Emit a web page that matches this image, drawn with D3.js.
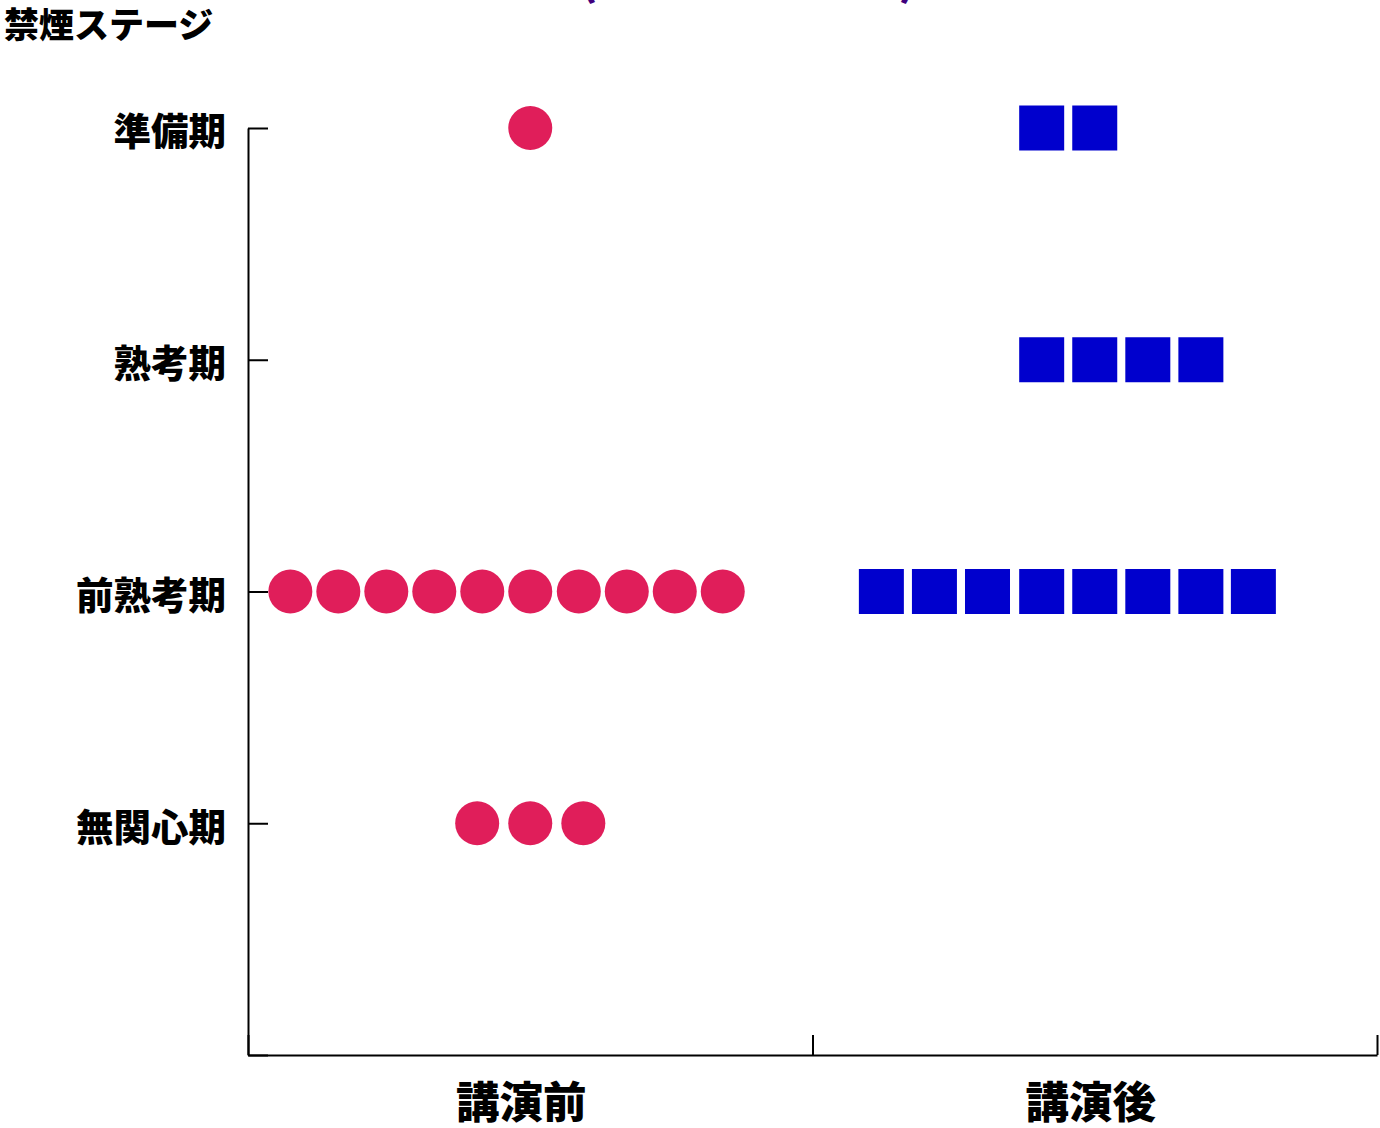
<!DOCTYPE html>
<html>
<head>
<meta charset="utf-8">
<script src="https://cdn.jsdelivr.net/npm/d3@7"></script>
<style>
  body { margin: 0; background: #ffffff; }
  svg text { font-family: "Noto Sans CJK JP", "Noto Sans", sans-serif; font-weight: 900; }
</style>
</head>
<body>
<div id="chart"></div>
<script>
// stages, bottom to top
const stages = ["無関心期", "前熟考期", "熟考期", "準備期"];
const groups = ["講演前", "講演後"];

// before the talk: one circle per person (stage index 1..4, x position in group units)
const beforeStage = [4, 2, 2, 2, 2, 2, 2, 2, 2, 2, 2, 1, 1, 1];
const beforeX = [0.500, 0.075, 0.160, 0.245, 0.330, 0.415, 0.500, 0.586, 0.671, 0.756, 0.841, 0.406, 0.500, 0.594];

// after the talk: one square per person
const afterStage = [4, 4, 3, 3, 3, 3, 2, 2, 2, 2, 2, 2, 2, 2];
const afterX = [1.406, 1.500, 1.406, 1.500, 1.594, 1.688, 1.122, 1.216, 1.310, 1.406, 1.500, 1.594, 1.688, 1.781];

const width = 1380;
const height = 1128;

const svg = d3.select("#chart")
    .append("svg")
    .attr("width", width)
    .attr("height", height);

const x = d3.scaleLinear().domain([0, 2]).range([248, 1377]);
const y = d3.scaleLinear().domain([0, 4]).range([1055, 128]);

// title, mostly above the visible area
svg.append("text")
    .attr("x", 748)
    .attr("y", -5)
    .attr("text-anchor", "middle")
    .style("font-size", "43px")
    .style("fill", "#3f007d")
    .text("(講演前→講演後)");

// y axis title
svg.append("text")
    .attr("x", 4)
    .attr("y", 38)
    .style("font-size", "35px")
    .style("fill", "#000")
    .text("禁煙ステージ");

// y axis
const yAxis = svg.append("g")
    .attr("transform", `translate(${x(0)},0)`)
    .call(d3.axisLeft(y)
        .tickValues([0, 1, 2, 3, 4])
        .tickSize(-20)
        .tickSizeOuter(0)
        .tickPadding(22)
        .tickFormat((d) => (d > 0 ? stages[d - 1] : "")));

yAxis.selectAll("text")
    .style("font-size", "37.5px")
    .style("fill", "#000")
    .attr("dy", "0.45em");

// x axis
const xAxis = svg.append("g")
    .attr("transform", `translate(0,${y(0)})`)
    .call(d3.axisBottom(x)
        .tickValues([0, 1, 2])
        .tickSize(-20)
        .tickSizeOuter(0)
        .tickFormat(""));

svg.selectAll(".domain, .tick line")
    .attr("stroke", "#000")
    .attr("stroke-width", 2);

// group labels
svg.selectAll(".group-label")
    .data(groups)
    .enter()
    .append("text")
    .attr("class", "group-label")
    .attr("x", (d, i) => x(i + 0.5))
    .attr("dx", (d, i) => (i === 0 ? -9 : -4))
    .attr("y", 1118)
    .attr("text-anchor", "middle")
    .style("font-size", "43.5px")
    .style("fill", "#000")
    .text((d) => d);

// before: circles
svg.selectAll(".before")
    .data(beforeX)
    .enter()
    .append("circle")
    .attr("class", "before")
    .attr("cx", (d) => x(d))
    .attr("cy", (d, i) => y(beforeStage[i]))
    .attr("r", 22)
    .attr("fill", "#e01e5a");

// after: squares
const side = 45;
svg.selectAll(".after")
    .data(afterX)
    .enter()
    .append("rect")
    .attr("class", "after")
    .attr("x", (d) => x(d) - side / 2)
    .attr("y", (d, i) => y(afterStage[i]) - side / 2)
    .attr("width", side)
    .attr("height", side)
    .attr("fill", "#0000cd");
</script>
</body>
</html>
